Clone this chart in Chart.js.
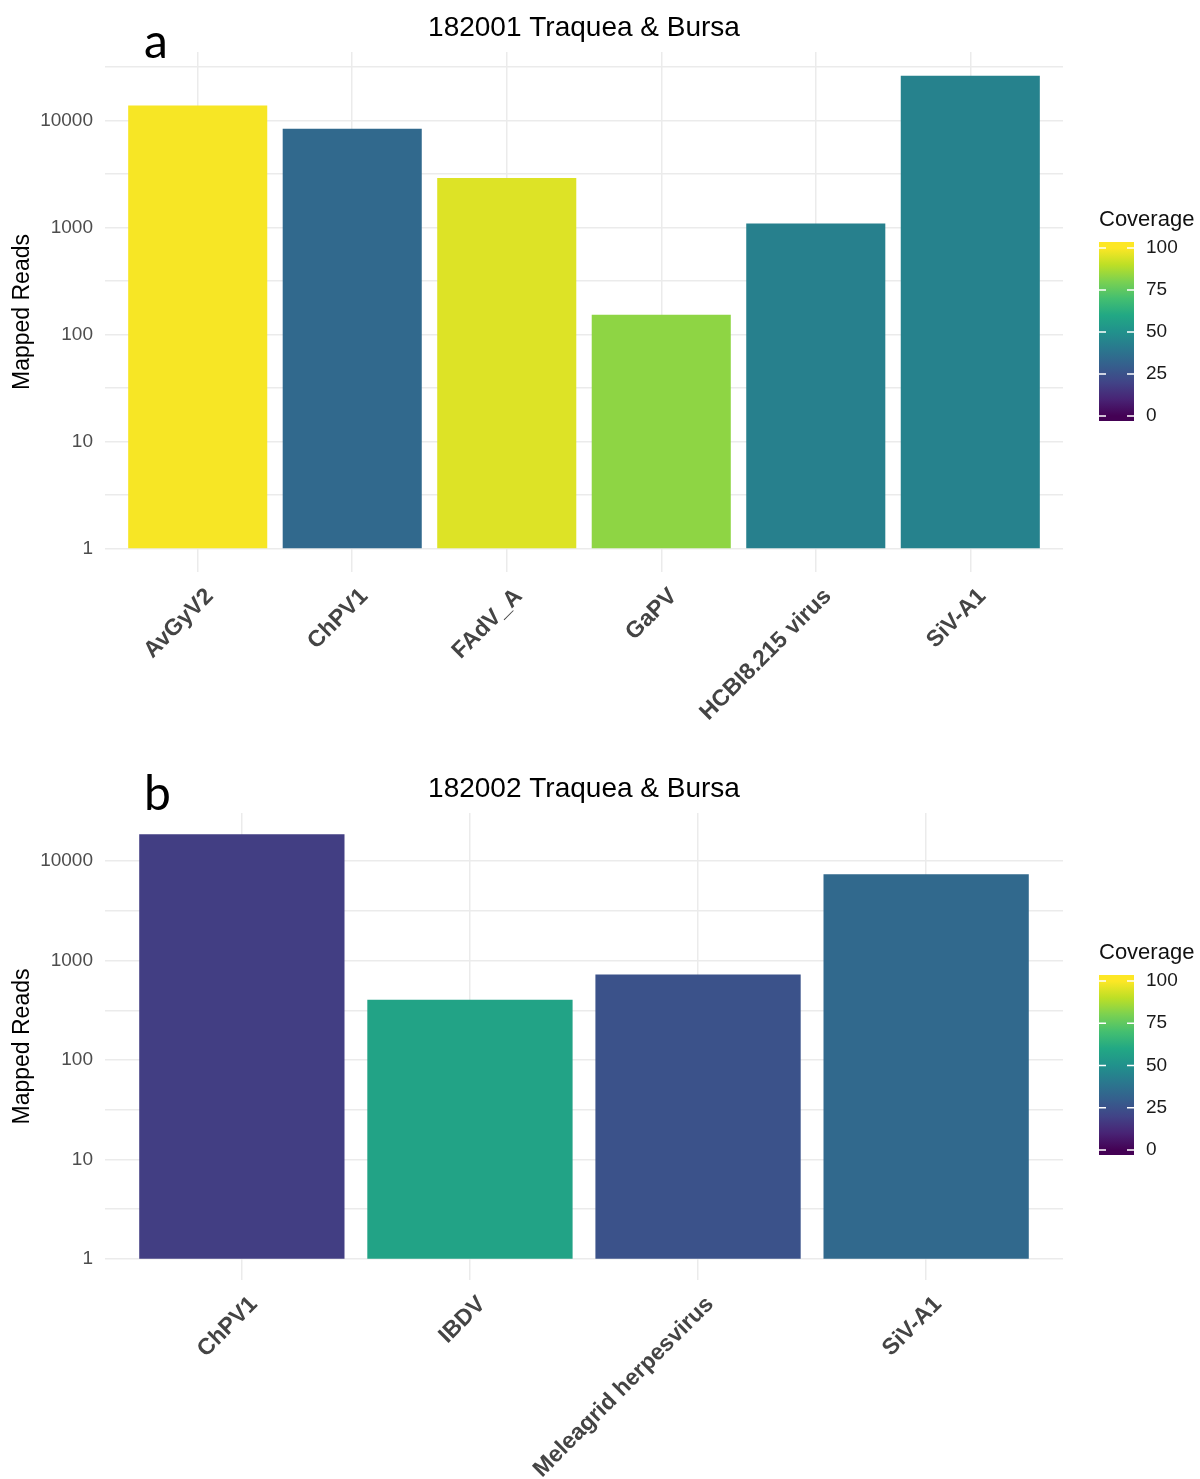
<!DOCTYPE html>
<html>
<head>
<meta charset="utf-8">
<script src="https://cdn.jsdelivr.net/npm/chart.js@4.4.1/dist/chart.umd.min.js"></script>
<style>
  html, body { margin: 0; padding: 0; background: #ffffff; }
  #wrap { position: relative; width: 1200px; height: 1479px; }
  canvas { position: absolute; left: 0; }
</style>
</head>
<body>
<div id="wrap">
  <canvas id="panelA" width="1200" height="740" style="top:0px"></canvas>
  <canvas id="panelB" width="1200" height="739" style="top:740px"></canvas>
</div>
<script>
// ---- Sample 182001 (trachea & bursa) ----
const virusesA  = ['AvGyV2', 'ChPV1', 'FAdV_A', 'GaPV', 'HCBI8.215 virus', 'SiV-A1'];
const readsA    = [13800, 8400, 2900, 153, 1090, 26300];
const coverageA = [99, 34, 95, 83, 43, 44];

// ---- Sample 182002 (trachea & bursa) ----
const virusesB  = ['ChPV1', 'IBDV', 'Meleagrid herpesvirus', 'SiV-A1'];
const readsB    = [18700, 405, 723, 7400];
const coverageB = [18, 58, 25, 34];

// Axis / legend tick labels
const readTicks     = [1, 10, 100, 1000, 10000];
const coverageTicks = [0, 25, 50, 75, 100];

// Viridis palette, 11 evenly spaced stops
const viridisStops = ['#440154', '#482475', '#414487', '#355f8d', '#2a788e', '#21918c',
                      '#22a884', '#44bf70', '#7ad151', '#bddf26', '#fde725'];

function hexToRgb(h) {
  const n = parseInt(h.slice(1), 16);
  return [(n >> 16) & 255, (n >> 8) & 255, n & 255];
}
function viridis(t) {
  t = Math.max(0, Math.min(1, t));
  const p = t * (viridisStops.length - 1);
  const i = Math.min(viridisStops.length - 2, Math.floor(p));
  const f = p - i;
  const a = hexToRgb(viridisStops[i]), b = hexToRgb(viridisStops[i + 1]);
  const c = a.map((v, k) => Math.round(v + (b[k] - v) * f));
  return `rgb(${c[0]},${c[1]},${c[2]})`;
}

const FONT = "'Liberation Sans', Arial, sans-serif";
const GRID = '#ebebeb';

// Title, panel tag, y-axis title and colour-bar legend
const decorations = {
  id: 'decorations',
  afterDraw(chart, args, o) {
    const ctx = chart.ctx;
    const ca = chart.chartArea;
    ctx.save();
    // title
    ctx.fillStyle = '#000000';
    ctx.font = `28px ${FONT}`;
    ctx.textAlign = 'center';
    ctx.textBaseline = 'middle';
    ctx.fillText(o.title, (ca.left + ca.right) / 2, o.titleY);
    // panel tag
    ctx.font = `48px Lato, 'Open Sans', sans-serif`;
    ctx.textAlign = 'left';
    ctx.textBaseline = 'alphabetic';
    ctx.fillText(o.tag, 144, o.tagY);
    // y-axis title
    ctx.save();
    ctx.translate(23, (ca.top + ca.bottom) / 2);
    ctx.rotate(-Math.PI / 2);
    ctx.font = `23px ${FONT}`;
    ctx.textAlign = 'center';
    ctx.textBaseline = 'middle';
    ctx.fillText('Mapped Reads', 0, 0);
    ctx.restore();
    // legend title
    ctx.font = `22px ${FONT}`;
    ctx.textAlign = 'left';
    ctx.textBaseline = 'middle';
    ctx.fillStyle = '#111111';
    ctx.fillText('Coverage', 1099, o.legendTitleY);
    // colour bar
    const x0 = 1099, w = 35;
    const yOf = v => o.y0 + (o.y100 - o.y0) * v / 100;
    const grad = ctx.createLinearGradient(0, o.y0, 0, o.y100);
    viridisStops.forEach((c, i) => grad.addColorStop(i / (viridisStops.length - 1), c));
    ctx.fillStyle = grad;
    ctx.fillRect(x0, o.barTop, w, o.barBottom - o.barTop);
    ctx.strokeStyle = '#ffffff';
    ctx.lineWidth = 1.5;
    ctx.font = `19px ${FONT}`;
    ctx.fillStyle = '#1a1a1a';
    coverageTicks.forEach(v => {
      const y = yOf(v);
      ctx.beginPath();
      ctx.moveTo(x0, y); ctx.lineTo(x0 + 7, y);
      ctx.moveTo(x0 + w - 7, y); ctx.lineTo(x0 + w, y);
      ctx.stroke();
      ctx.fillText(String(v), 1146, y);
    });
    ctx.restore();
  }
};

function makeChart(id, cats, reads, coverage, layout) {
  const maxLog = Math.log10(Math.max(...reads));
  const lo = -0.05 * maxLog, hi = 1.05 * maxLog;   // 5% expansion on the log axis
  const gridVals = [];
  for (let k = -1; k <= 6; k++) {
    [k, k + 0.5].forEach(e => { if (e >= lo && e <= hi) gridVals.push(Math.pow(10, e)); });
  }
  const canvas = document.getElementById(id);
  const H = canvas.height;
  return new Chart(canvas, {
    type: 'bar',
    data: {
      datasets: [{
        data: cats.map((c, i) => ({ x: i, y: [1, reads[i]] })),
        backgroundColor: coverage.map(c => viridis(c / 100)),
        borderWidth: 0,
        barPercentage: 0.9,
        categoryPercentage: 1.0
      }]
    },
    options: {
      responsive: false,
      animation: false,
      events: [],
      layout: { padding: { top: layout.top, left: 0, right: 137, bottom: 0 } },
      plugins: {
        legend: { display: false },
        tooltip: { enabled: false },
        decorations: layout
      },
      scales: {
        x: {
          type: 'linear',
          bounds: 'data',
          offset: false,
          min: -0.6,
          max: cats.length - 0.4,
          afterBuildTicks: s => { s.ticks = cats.map((c, i) => ({ value: i })); },
          afterFit: s => { s.height = H - layout.bottom; },
          ticks: {
            autoSkip: false,
            minRotation: 45,
            maxRotation: 45,
            padding: 11,
            labelOffset: 12,
            color: '#444444',
            font: { family: FONT, size: 23, weight: 'bold' },
            callback: v => cats[v]
          },
          grid: { color: GRID, lineWidth: 1.5, drawTicks: false, offset: false },
          border: { display: false }
        },
        y: {
          type: 'logarithmic',
          bounds: 'data',
          min: Math.pow(10, lo),
          max: Math.pow(10, hi),
          afterBuildTicks: s => { s.ticks = gridVals.map(v => ({ value: v })); },
          afterFit: s => { s.width = 105; },
          ticks: {
            autoSkip: false,
            padding: 12,
            color: '#4d4d4d',
            font: { family: FONT, size: 19 },
            callback: v => readTicks.includes(v) ? String(v) : ''
          },
          grid: { color: GRID, lineWidth: 1.5, drawTicks: false },
          border: { display: false }
        }
      }
    },
    plugins: [decorations]
  });
}

makeChart('panelA', virusesA, readsA, coverageA, {
  title: '182001 Traquea & Bursa', tag: 'a',
  top: 52, bottom: 572, titleY: 28, tagY: 58,
  legendTitleY: 220, barTop: 242, barBottom: 421, y100: 248, y0: 416
});
makeChart('panelB', virusesB, readsB, coverageB, {
  title: '182002 Traquea & Bursa', tag: 'b',
  top: 73, bottom: 540, titleY: 49, tagY: 70,
  legendTitleY: 213, barTop: 235, barBottom: 415, y100: 241, y0: 410
});
</script>
</body>
</html>
